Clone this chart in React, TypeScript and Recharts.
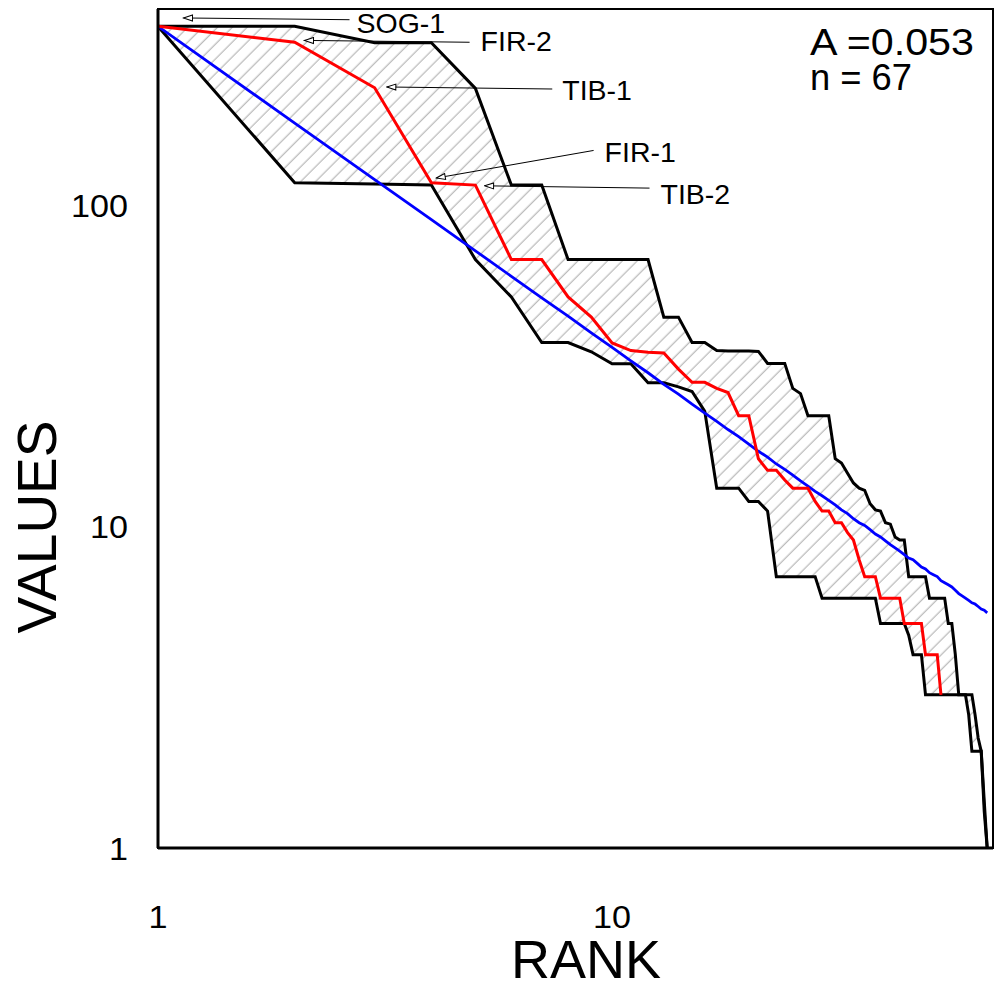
import React from "react";
import {
  Area,
  ComposedChart,
  Customized,
  Line,
  ReferenceArea,
  ReferenceLine,
  XAxis,
  YAxis,
} from "recharts";

// rank 1..67
const RANKS = [
  1, 2, 3, 4, 5, 6, 7, 8, 9, 10, 11, 12, 13, 14, 15, 16, 17, 18, 19, 20, 21, 22, 23, 24, 25, 26, 27, 28, 29, 30,
  31, 32, 33, 34, 35, 36, 37, 38, 39, 40, 41, 42, 43, 44, 45, 46, 47, 48, 49, 50, 51, 52, 53, 54, 55, 56, 57, 58,
  59, 60, 61, 62, 63, 64, 65, 66, 67,
];

// upper edge of the envelope
const UPPER = [
  362, 362, 322, 322, 232, 116, 116, 68, 68, 68, 68, 68, 45, 45, 37.5, 37.5, 35.4, 35.3, 35.3, 35.3, 35.2, 32.3,
  32.3, 32.3, 27, 26, 22.2, 22.2, 22.2, 22.2, 16.3, 15.8, 14.7, 13.7, 13.2, 13, 11.8, 11.3, 11.2, 10.3, 10.2, 9.3,
  9.1, 9.1, 7, 7, 7, 7, 7, 6, 6, 6, 6, 6, 5, 5, 4, 3, 3, 3, 2.6, 2, 2, 2, 2, 1.3, 1,
];

// lower edge of the envelope
const LOWER = [
  362, 118, 117, 116, 68, 52, 37.5, 37.5, 35.1, 32.2, 32.2, 28.1, 28.1, 27.3, 26.4, 22.9, 13.2, 13.2, 13.2, 12, 12,
  11.2, 7, 7, 7, 7, 7, 7, 6, 6, 6, 6, 6, 6, 6, 6, 6, 6, 5, 5, 5, 5, 5, 5, 4.6, 4, 4, 4, 3, 3, 3, 3, 3, 3, 3, 3, 3,
  3, 3, 3, 3, 3, 2.6, 2.2, 2, 1.4, 1,
];

// observed (red)
const OBSERVED = [
  362, 323, 233, 118, 116, 68, 68, 52, 45, 37.4, 35.4, 35, 34.8, 31, 28.2, 28.2, 27, 26.2, 22.2, 22.2, 16.3, 15, 15,
  14, 13.2, 13.2, 13.2, 12, 11.2, 11.2, 10.3, 10.3, 9.6, 9.1, 7.9, 7, 7, 7, 6, 6, 6, 6, 6, 5, 5, 5, 5, 5, 4, 4, 4,
  4, 3,
];

// expected (blue)
const EXPECTED = [
  362, 181, 120.7, 90.5, 72.4, 60.3, 51.7, 45.3, 40.2, 36.2, 32.9, 30.2, 27.8, 25.9, 24.1, 22.6, 21.3, 20.1, 19.1,
  18.1, 17.2, 16.5, 15.7, 15.1, 14.5, 13.9, 13.4, 12.9, 12.5, 12.1, 11.7, 11.3, 11, 10.6, 10.3, 10.1, 9.8, 9.5, 9.3,
  9.05, 8.8, 8.6, 8.4, 8.2, 8, 7.9, 7.7, 7.5, 7.4, 7.2, 7.1, 7, 6.8, 6.7, 6.6, 6.5, 6.35, 6.2, 6.1, 6, 5.9, 5.8,
  5.75, 5.65, 5.55, 5.5, 5.4,
];

const X_TICKS = [1, 10];
const Y_TICKS = [1, 10, 100];

// arrow labels: tip and tail in data units (rank, value)
const LABELS = [
  { name: "SOG-1", tip: { x: 1.138, y: 384.5 }, tail: { x: 2.641, y: 379.7 }, dx: 7, dy: 2.7 },
  { name: "FIR-2", tip: { x: 2.102, y: 327.3 }, tail: { x: 4.855, y: 323 }, dx: 11, dy: -1.5 },
  { name: "TIB-1", tip: { x: 3.191, y: 234.4 }, tail: { x: 7.383, y: 231 }, dx: 10, dy: 1 },
  { name: "FIR-1", tip: { x: 4.1, y: 122 }, tail: { x: 9.106, y: 148.7 }, dx: 11, dy: 1 },
  { name: "TIB-2", tip: { x: 5.239, y: 115.4 }, tail: { x: 12.09, y: 113.5 }, dx: 11, dy: 5.7 },
];

const data = RANKS.map((rank, i) => ({
  rank,
  upper: UPPER[i],
  lower: LOWER[i],
  band: [LOWER[i], UPPER[i]],
  observed: OBSERVED[i],
  expected: EXPECTED[i],
}));

function arrowShape(label: string, dx: number, dy: number) {
  return (p: any) => (
    <g>
      <line
        x1={p.x1}
        y1={p.y1}
        x2={p.x2}
        y2={p.y2}
        stroke="#000"
        strokeWidth={1}
        markerStart="url(#openArrow)"
      />
      <text x={p.x2 + dx} y={p.y2 + dy} dy="0.36em" fontSize={28.5} fill="#000">
        {label}
      </text>
    </g>
  );
}

// wide tick digits, like the source figure
function YTick(p: any) {
  const s = String(p.payload.value);
  return (
    <text
      x={p.x - 2}
      y={p.y}
      dy="0.36em"
      textAnchor="end"
      fontSize={32}
      fill="#000"
      textLength={s.length * 19}
      lengthAdjust="spacingAndGlyphs"
    >
      {s}
    </text>
  );
}

function XTick(p: any) {
  const s = String(p.payload.value);
  return (
    <text
      x={p.x}
      y={p.y}
      dy="0.71em"
      textAnchor="middle"
      fontSize={32}
      fill="#000"
      textLength={s.length * 19}
      lengthAdjust="spacingAndGlyphs"
    >
      {s}
    </text>
  );
}

function Notes() {
  return (
    <g fill="#000">
      <text x={810} y={55} fontSize={37} textLength={164} lengthAdjust="spacingAndGlyphs">
        A =0.053
      </text>
      <text x={810} y={90} fontSize={37} textLength={102} lengthAdjust="spacingAndGlyphs">
        n = 67
      </text>
      <text x={586} y={978} fontSize={54} textAnchor="middle">
        RANK
      </text>
      <text transform="translate(36,527) rotate(-90)" fontSize={55} textAnchor="middle" dy="0.36em">
        VALUES
      </text>
    </g>
  );
}

export default function App() {
  return (
    <div style={{ width: 997, height: 987, background: "#fff", fontFamily: '"Liberation Sans", Arial, sans-serif' }}>
      <style>{`body{margin:0}`}</style>
      <svg width={0} height={0} style={{ position: "absolute" }}>
        <defs>
          <pattern id="hatch" patternUnits="userSpaceOnUse" width={10.5} height={10.5} patternTransform="rotate(45)">
            <line x1={5} y1={0} x2={5} y2={10.5} stroke="#a8a8a8" strokeWidth={1} />
          </pattern>
          <marker
            id="openArrow"
            markerUnits="userSpaceOnUse"
            markerWidth={12}
            markerHeight={8}
            refX={1}
            refY={4}
            orient="auto"
          >
            <path d="M1,4 L10,1 L10,7 Z" fill="#fff" stroke="#000" strokeWidth={1} />
          </marker>
        </defs>
      </svg>
      <ComposedChart width={997} height={987} data={data} margin={{ top: 9, right: 4, left: 0, bottom: 0 }}>
        <XAxis
          dataKey="rank"
          type="number"
          scale="log"
          domain={[1, 69]}
          ticks={X_TICKS}
          allowDataOverflow
          height={139}
          tickLine={false}
          tickSize={0}
          tickMargin={57}
          axisLine={{ stroke: "#000", strokeWidth: 3 }}
          tick={XTick}
        />
        <YAxis
          type="number"
          scale="log"
          domain={[1, 410]}
          ticks={Y_TICKS}
          allowDataOverflow
          width={158}
          tickLine={false}
          tickSize={0}
          tickMargin={28}
          axisLine={{ stroke: "#000", strokeWidth: 3 }}
          tick={YTick}
        />
        <ReferenceArea x1={1} x2={69} y1={1} y2={410} fill="none" stroke="#000" strokeWidth={2} />
        <Area
          dataKey="band"
          type="linear"
          stroke="none"
          fill="url(#hatch)"
          fillOpacity={1}
          isAnimationActive={false}
          activeDot={false}
        />
        <Line dataKey="upper" type="linear" stroke="#000" strokeWidth={3} dot={false} activeDot={false} isAnimationActive={false} />
        <Line dataKey="lower" type="linear" stroke="#000" strokeWidth={3} dot={false} activeDot={false} isAnimationActive={false} />
        <Line dataKey="expected" type="linear" stroke="#0000ff" strokeWidth={2.8} dot={false} activeDot={false} isAnimationActive={false} />
        <Line dataKey="observed" type="linear" stroke="#ff0000" strokeWidth={3} dot={false} activeDot={false} isAnimationActive={false} />
        {LABELS.map((l) => (
          <ReferenceLine
            key={l.name}
            segment={[l.tip, l.tail]}
            ifOverflow="visible"
            shape={arrowShape(l.name, l.dx, l.dy)}
          />
        ))}
        <Customized component={Notes} />
      </ComposedChart>
    </div>
  );
}
